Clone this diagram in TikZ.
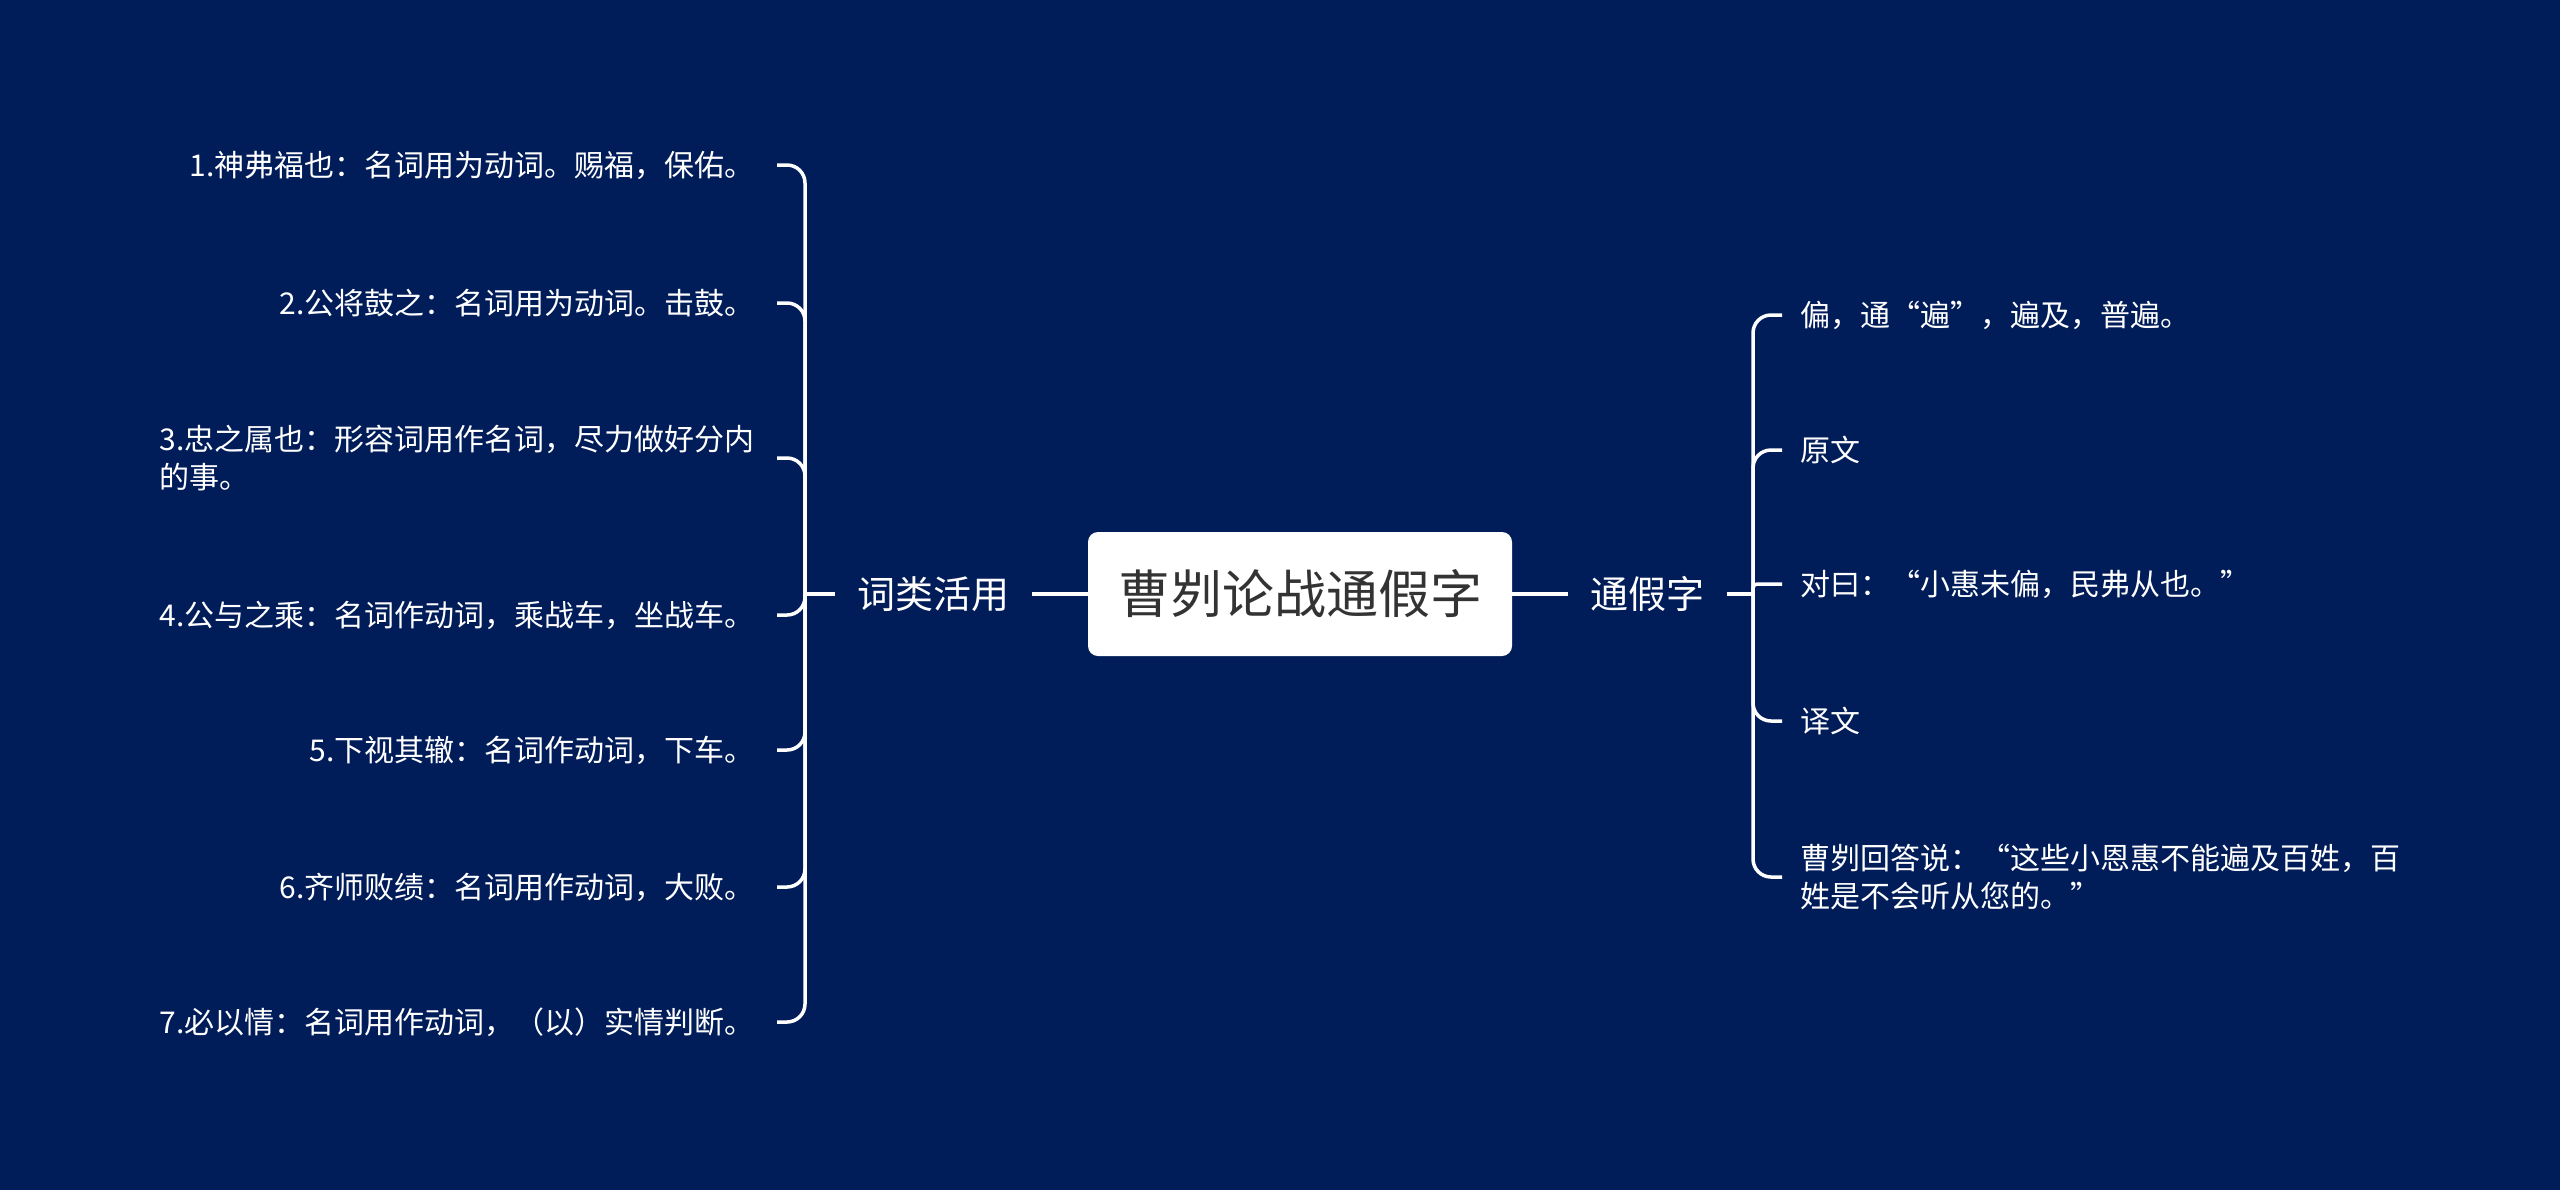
\documentclass[tikz,border=0pt]{standalone}
\usepackage{fontspec}
\newfontfamily\cjk{Noto Sans CJK SC}
\usetikzlibrary{positioning}
\definecolor{navy}{RGB}{0,29,89}
\definecolor{inkgray}{RGB}{51,51,51}

\begin{document}
\begin{tikzpicture}[
    x=0.5pt, y=-0.5pt,
    node distance=28pt,
    root/.style={fill=white, rounded corners=5pt, minimum width=212pt,
        minimum height=62pt, text=inkgray,
        font=\cjk\fontsize{26pt}{30pt}\selectfont},
    topic/.style={text=white, inner xsep=11pt,
        font=\cjk\fontsize{19pt}{23pt}\selectfont},
    leaf/.style={text=white, inner xsep=11pt, inner ysep=2pt,
        font=\cjk\fontsize{15pt}{19pt}\selectfont},
    rleaf/.style={leaf, anchor=west, inner xsep=9pt},
    lleaf/.style={leaf, anchor=east},
    link/.style={draw=white, line width=1.75pt, rounded corners=9pt}
]
\fill[navy] (0,0) rectangle (2560,1190);

\node[root] (root) at (1300,594) {曹刿论战通假字};
\node[topic, left=of root] (usage) {词类活用};
\node[topic, right=of root] (tongjia) {通假字};

\coordinate (lj) at (805,594);
\coordinate (rj) at (1753,594);

% left branch
\node[lleaf] (w1) at (777,165) {1.神弗福也：名词用为动词。赐福，保佑。};
\node[lleaf] (w2) at (777,303) {2.公将鼓之：名词用为动词。击鼓。};
\node[lleaf, align=left] (w3) at (777,458) {3.忠之属也：形容词用作名词，尽力做好分内\\的事。};
\node[lleaf] (w4) at (777,615) {4.公与之乘：名词作动词，乘战车，坐战车。};
\node[lleaf] (w5) at (777,750) {5.下视其辙：名词作动词，下车。};
\node[lleaf] (w6) at (777,887) {6.齐师败绩：名词用作动词，大败。};
\node[lleaf] (w7) at (777,1022) {7.必以情：名词用作动词，（以）实情判断。};

% right branch
\node[rleaf] (t1) at (1782,315) {偏，通“遍”，遍及，普遍。};
\node[rleaf] (t2) at (1782,450) {原文};
\node[rleaf] (t3) at (1782,584) {对曰：“小惠未偏，民弗从也。”};
\node[rleaf] (t4) at (1782,721) {译文};
\node[rleaf, align=left] (t5) at (1782,877) {曹刿回答说：“这些小恩惠不能遍及百姓，百\\姓是不会听从您的。”};

\draw[link] (root.west) -- (usage.east);
\draw[link] (root.east) -- (tongjia.west);
\draw[link] (usage.west) -- (lj);
\draw[link] (tongjia.east) -- (rj);

\foreach \w in {w1,w2,w3,w4,w5,w6,w7}
    \draw[link] (lj) |- (\w.east);
\foreach \t in {t1,t2,t4,t5}
    \draw[link] (rj) |- (\t.west);
\draw[link, rounded corners=2pt] (rj) |- (t3.west);
\end{tikzpicture}
\end{document}
